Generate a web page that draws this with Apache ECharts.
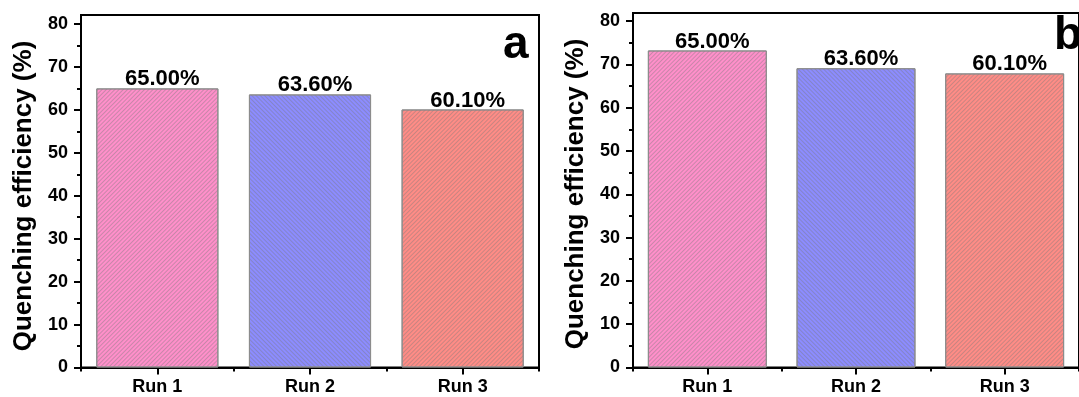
<!DOCTYPE html>
<html>
<head>
<meta charset="utf-8">
<script src="https://cdn.jsdelivr.net/npm/echarts@6/dist/echarts.min.js"></script>
<style>
  html, body { margin: 0; padding: 0; background: #fff; overflow: hidden; }
  #chart { width: 1079px; height: 397px; }
</style>
</head>
<body>
<div id="chart"></div>
<script>
// Quenching efficiency for three runs, two panels
const categories = ['Run 1', 'Run 2', 'Run 3'];
const valuesA = [65.0, 63.6, 60.1];
const valuesB = [73.2, 69.1, 67.9];
const labelsA = ['65.00%', '63.60%', '60.10%'];
const labelsB = ['65.00%', '63.60%', '60.10%'];
const yTicks = [0, 10, 20, 30, 40, 50, 60, 70, 80];
const yMinorTicks = [5, 15, 25, 35, 45, 55, 65, 75];
const panelLetters = ['a', 'b'];
const yTitle = 'Quenching efficiency (%)';

const FONT = 'Arial, "Liberation Sans", Helvetica, sans-serif';
const barColors = ['#ff8fca', '#8c8cff', '#ff8c86'];
const hatchAngles = [-Math.PI / 4, Math.PI / 4, -Math.PI / 4];

const panels = [
  { left: 81, top: 15, width: 458, height: 352.5, max: 82.1, values: valuesA, labels: labelsA,
    letterX: 503, letterY: 22, titleX: 24, titleY: 196 },
  { left: 633, top: 13, width: 458, height: 354.5, max: 81.85, values: valuesB, labels: labelsB,
    letterX: 1054, letterY: 13, titleX: 576, titleY: 194 }
];

const grid = [], xAxis = [], yAxis = [], series = [], graphic = [];

panels.forEach((p, i) => {
  grid.push({
    left: p.left, top: p.top, width: p.width, height: p.height,
    show: true, borderColor: '#000', borderWidth: 2, backgroundColor: 'transparent'
  });

  // category axis with ticks under each bar
  xAxis.push({
    type: 'category', gridIndex: i, data: categories, position: 'bottom',
    axisLine: { show: true, lineStyle: { color: '#000', width: 2 } },
    axisTick: { show: true, alignWithLabel: true, length: 7, lineStyle: { color: '#000', width: 2 } },
    axisLabel: { color: '#000', fontFamily: FONT, fontWeight: 'bold', fontSize: 18, margin: 11 },
    splitLine: { show: false }
  });
  // boundary ticks between categories
  xAxis.push({
    type: 'category', gridIndex: i, data: categories, position: 'bottom',
    axisLine: { show: false },
    axisTick: { show: true, alignWithLabel: false, interval: 0, length: 4, lineStyle: { color: '#000', width: 2 } },
    axisLabel: { show: false },
    splitLine: { show: false }
  });

  yAxis.push({
    type: 'value', gridIndex: i, min: 0, max: p.max, interval: 10,
    axisLine: { show: true, lineStyle: { color: '#000', width: 2 } },
    axisTick: { show: true, customValues: yTicks, length: 7, lineStyle: { color: '#000', width: 2 } },
    axisLabel: { customValues: yTicks, color: '#000', fontFamily: FONT, fontWeight: 'bold', fontSize: 18, margin: 13 },
    splitLine: { show: false }
  });
  yAxis.push({
    type: 'value', gridIndex: i, min: 0, max: p.max, interval: 10, position: 'left',
    axisLine: { show: false },
    axisTick: { show: true, customValues: yMinorTicks, length: 4, lineStyle: { color: '#000', width: 2 } },
    axisLabel: { show: false },
    splitLine: { show: false }
  });

  series.push({
    type: 'bar', xAxisIndex: 2 * i, yAxisIndex: 2 * i, barWidth: '80%',
    data: p.values.map((v, k) => ({
      value: v,
      itemStyle: {
        color: barColors[k], borderColor: '#8c8c8c', borderWidth: 1,
        decal: {
          symbol: 'rect', symbolSize: 1, dashArrayX: [1, 0], dashArrayY: [1, 2],
          rotation: hatchAngles[k], color: 'rgba(120,120,120,0.4)'
        }
      },
      label: { formatter: p.labels[k] }
    })),
    label: {
      show: true, position: 'top', distance: -2, offset: [5, 0],
      color: '#000', fontFamily: FONT, fontWeight: 'bold', fontSize: 22
    },
    emphasis: { disabled: true },
    animation: false
  });

  // axis title
  graphic.push({
    type: 'text', x: p.titleX, y: p.titleY, rotation: Math.PI / 2,
    style: {
      text: yTitle, font: 'bold 26px ' + FONT, fill: '#000',
      align: 'center', verticalAlign: 'middle'
    }
  });
  // panel letter
  graphic.push({
    type: 'text', left: p.letterX, top: p.letterY,
    style: { text: panelLetters[i], font: 'bold 46px ' + FONT, fill: '#000' }
  });
});

const chart = echarts.init(document.getElementById('chart'), null, { renderer: 'canvas' });
chart.setOption({
  backgroundColor: '#fff',
  animation: false,
  grid, xAxis, yAxis, series, graphic
});
</script>
</body>
</html>
